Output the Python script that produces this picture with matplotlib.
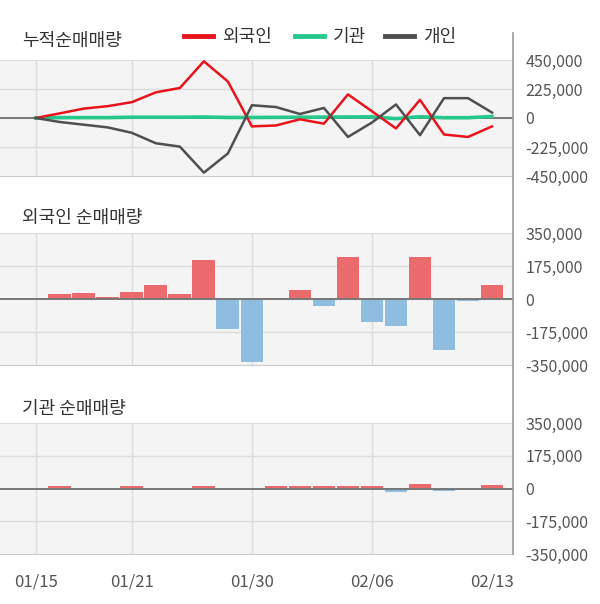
import numpy as np
import matplotlib
matplotlib.use('Agg')
import matplotlib.pyplot as plt
from matplotlib.lines import Line2D
from matplotlib.ticker import FuncFormatter

plt.rcParams['font.family'] = ['Noto Sans CJK KR', 'DejaVu Sans']

# DATA
dates = ['01/15', '01/16', '01/17', '01/20', '01/21', '01/22', '01/23', '01/28', '01/29', '01/30',
         '01/31', '02/03', '02/04', '02/05', '02/06', '02/07', '02/10', '02/11', '02/12', '02/13']
foreign_cum = [0, 36000, 73000, 92000, 123000, 199000, 233000, 440000, 283000, -65000,
               -58000, -10000, -44000, 183000, 52000, -81000, 141000, -128000, -147000, -65000]
inst_cum = [0, 3000, 3000, 3000, 6000, 6000, 6000, 8000, 4000, 4000,
            5000, 6000, 7000, 8000, 9000, -5000, 10000, 2000, 2000, 12000]
indiv_cum = [0, -31000, -52000, -73000, -115000, -196000, -222000, -424000, -275000, 99000,
             85000, 31000, 78000, -147000, -35000, 105000, -133000, 154000, 154000, 42000]
foreign_net = [0, 28000, 34000, 12000, 39000, 76000, 28000, 208000, -161000, -336000,
               7000, 49000, -39000, 224000, -124000, -141000, 224000, -272000, -12000, 76000]
inst_net = [0, 13000, 0, 0, 13000, 0, 0, 13000, 0, 0,
            13000, 13000, 13000, 13000, 13000, -20000, 22000, -15000, 0, 17000]
tick_dates = ['01/15', '01/21', '01/30', '02/06', '02/13']
grid_dates = ['01/15', '01/21', '01/30', '02/06']

x = np.arange(len(dates))
RED_LINE = '#e8131c'
GREEN = '#26c88b'
GRAY = '#4f4f4f'
BAR_RED = '#ea6a6e'
BAR_BLUE = '#8fbde0'
TXT = '#555555'

fig = plt.figure(figsize=(6, 6.04), dpi=100)
W, H = 600.0, 604.0
xl = 0.0
xr = 512.7


def make_ax(top, bottom):
    return fig.add_axes([xl / W, (H - bottom) / H, (xr - xl) / W, (bottom - top) / H])


def style(ax, lim):
    ax.set_facecolor('#f4f4f4')
    ax.set_xlim(-1.49, 19.86)
    ax.set_ylim(-lim, lim)
    ax.set_yticks([-lim, -lim / 2, 0, lim / 2, lim])
    ax.yaxis.tick_right()
    ax.yaxis.set_major_formatter(FuncFormatter(lambda v, p: '{:,.0f}'.format(v)))
    ax.tick_params(axis='y', length=0, pad=9, labelsize=11.5, labelcolor=TXT)
    for yv in [-lim / 2, lim / 2]:
        ax.axhline(yv, color='#dcdcdc', lw=1, zorder=0)
    for d in grid_dates:
        ax.axvline(dates.index(d), color='#dcdcdc', lw=1, zorder=0)
    for s in ['left', 'right']:
        ax.spines[s].set_visible(False)
    ax.spines['top'].set_color('#dcdcdc')
    ax.spines['bottom'].set_color('#cccccc')
    ax.axhline(0, color='#777777', lw=1.4, zorder=2)
    ax.set_xticks([dates.index(d) for d in tick_dates])
    ax.set_xticklabels([])
    ax.tick_params(axis='x', length=0)
    for lbl in ax.get_yticklabels():
        lbl.set_horizontalalignment('left')


# CUMULATIVE
ax1 = make_ax(60, 176)
style(ax1, 450000)
ax1.plot(x, inst_cum, color=GREEN, lw=2.6, zorder=3)
ax1.plot(x, foreign_cum, color=RED_LINE, lw=1.8, zorder=4)
ax1.plot(x, indiv_cum, color=GRAY, lw=1.8, zorder=4)
fig.text(22 / W, 1 - 41 / H, '누적순매매량', fontsize=13, color='#333333', va='center')

# legend
for x0, c, lab in [(184, RED_LINE, '외국인'), (295, GREEN, '기관'), (385, GRAY, '개인')]:
    fig.add_artist(Line2D([x0 / W, (x0 + 29) / W], [1 - 36 / H, 1 - 36 / H], color=c, lw=3.5))
    fig.text((x0 + 38) / W, 1 - 37 / H, lab, fontsize=13, color='#333333', va='center')

# FOREIGN
ax2 = make_ax(233, 365)
style(ax2, 350000)
ax2.bar(x, foreign_net, width=0.95, color=[BAR_RED if v >= 0 else BAR_BLUE for v in foreign_net], zorder=1)
fig.text(22 / W, 1 - 218 / H, '외국인 순매매량', fontsize=13, color='#333333', va='center')

# INSTITUTION
ax3 = make_ax(423, 554)
style(ax3, 350000)
ax3.bar(x, inst_net, width=0.95, color=[BAR_RED if v >= 0 else BAR_BLUE for v in inst_net], zorder=1)
fig.text(22 / W, 1 - 409 / H, '기관 순매매량', fontsize=13, color='#333333', va='center')
ax3.set_xticklabels(tick_dates)
ax3.tick_params(axis='x', pad=14, labelsize=12, labelcolor=TXT)

# right border line
fig.add_artist(Line2D([xr / W, xr / W], [1 - 33 / H, 1 - 554 / H], color='#999999', lw=1.2))

plt.savefig('out.png', dpi=100)
